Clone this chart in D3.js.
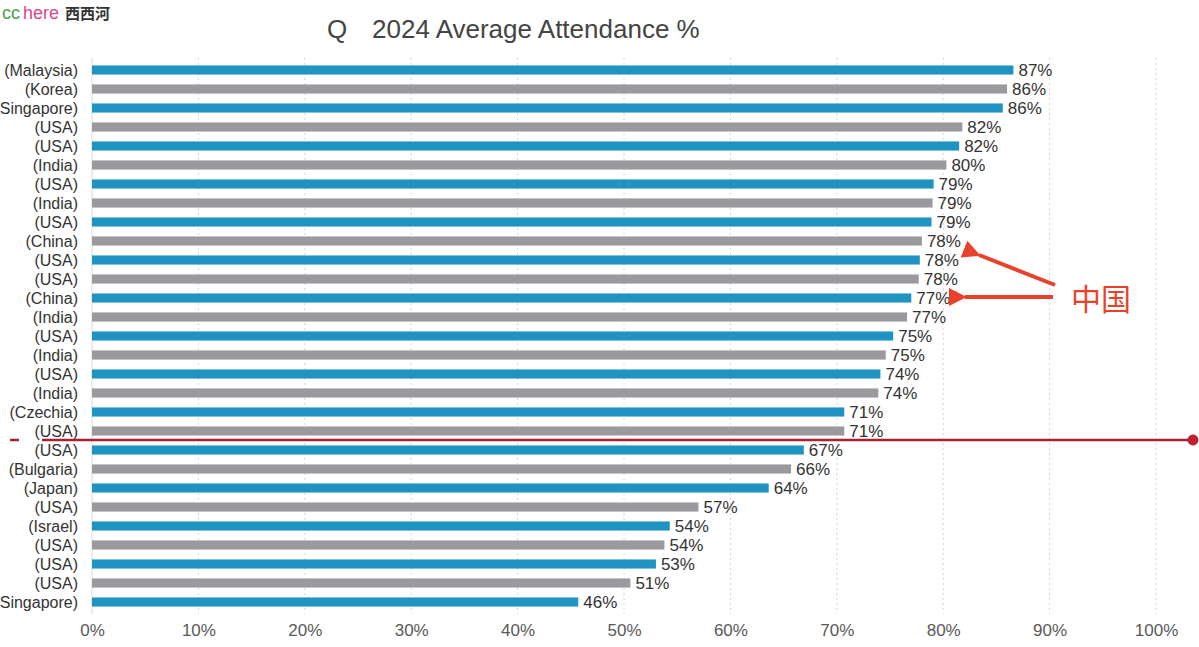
<!DOCTYPE html>
<html><head><meta charset="utf-8">
<script src="https://cdn.jsdelivr.net/npm/d3@7"></script>
<style>body{margin:0;background:#fff}svg{display:block}</style>
</head><body><svg id="c" width="1199" height="647"></svg>
<script>
const categories = ["(Malaysia)","(Korea)","Singapore)","(USA)","(USA)","(India)","(USA)","(India)","(USA)","(China)","(USA)","(USA)","(China)","(India)","(USA)","(India)","(USA)","(India)","(Czechia)","(USA)","(USA)","(Bulgaria)","(Japan)","(USA)","(Israel)","(USA)","(USA)","(USA)","Singapore)"];
const values = [86.6,86.0,85.6,81.8,81.5,80.3,79.1,79.0,78.9,78.0,77.8,77.7,77.0,76.6,75.3,74.6,74.1,73.9,70.7,70.7,66.9,65.7,63.6,57.0,54.3,53.8,53.0,50.6,45.7];
const ticks = [0,10,20,30,40,50,60,70,80,90,100];
const titleParts = ["Q", "2024 Average Attendance %"];

const svg = d3.select("#c");
const font = "'Liberation Sans', Arial, sans-serif";
const x = d3.scaleLinear().domain([0,100]).range([92,1156]);
const y = d3.scaleBand().domain(d3.range(categories.length)).range([60.5,611.5]).paddingInner(0.52).paddingOuter(0.26);

// grid
svg.append("g").selectAll("line").data(ticks.slice(1)).join("line")
  .attr("x1",d=>x(d)).attr("x2",d=>x(d)).attr("y1",58).attr("y2",614)
  .attr("stroke","#d4d4d4").attr("stroke-width",1).attr("stroke-dasharray","2,3");
svg.append("line").attr("x1",x(0)).attr("x2",x(0)).attr("y1",58).attr("y2",614)
  .attr("stroke","#d9d9d9").attr("stroke-width",1);

// axis
const ax = svg.append("g").attr("transform","translate(0,620)")
  .call(d3.axisBottom(x).tickValues(ticks).tickFormat(d=>d+"%").tickSize(0).tickPadding(4));
ax.select(".domain").remove();
ax.selectAll("text").attr("font-family",font).attr("font-size",17).attr("fill","#595959");

// bars
svg.append("g").selectAll("rect").data(values).join("rect")
  .attr("x",x(0)).attr("y",(d,i)=>y(i)).attr("height",y.bandwidth())
  .attr("width",d=>x(d)-x(0))
  .attr("fill",(d,i)=>i%2===0?"#1f93c1":"#9a999e");

// value labels
svg.append("g").selectAll("text").data(values).join("text")
  .attr("x",d=>x(d)+5).attr("y",(d,i)=>y(i)+y.bandwidth()/2).attr("dy","0.36em")
  .attr("font-family",font).attr("font-size",17).attr("fill","#333")
  .text(d=>Math.round(d)+"%");

// category labels
svg.append("g").selectAll("text").data(categories).join("text")
  .attr("x",78).attr("y",(d,i)=>y(i)+y.bandwidth()/2).attr("dy","0.36em")
  .attr("text-anchor","end").attr("font-family",font).attr("font-size",16).attr("fill","#333")
  .text(d=>d);

// title
const tt = svg.append("text").attr("y",38).attr("font-family",font).attr("font-size",26).attr("fill","#444");
tt.append("tspan").attr("x",327).text(titleParts[0]);
tt.append("tspan").attr("x",372).text(titleParts[1]);

// watermark
const wm = svg.append("text").attr("x",2).attr("y",19).attr("font-family",font).attr("font-size",18);
wm.append("tspan").attr("fill","#4aa04a").text("cc");
wm.append("tspan").attr("fill","#d9478f").attr("dx",3).text("here");
wm.append("tspan").attr("fill","#333").attr("dx",6).attr("font-family","'Noto Sans CJK SC'").attr("font-size",15).attr("font-weight","bold").text("西西河");

// red horizontal line
svg.append("line").attr("x1",42).attr("x2",1193).attr("y1",440).attr("y2",440)
  .attr("stroke","#a3232e").attr("stroke-width",2.5);
svg.append("line").attr("x1",10).attr("x2",19).attr("y1",440).attr("y2",440)
  .attr("stroke","#a3232e").attr("stroke-width",2.5);
svg.append("circle").attr("cx",1193).attr("cy",440).attr("r",5).attr("fill","#c4202f").attr("stroke","#a3232e");

// annotations
const red = "#e8432a";
const defs = svg.append("defs");
defs.append("marker").attr("id","ah").attr("viewBox","0 0 10 10").attr("refX",1).attr("refY",5)
  .attr("markerWidth",4.5).attr("markerHeight",4.5).attr("orient","auto")
  .append("path").attr("d","M10,0 L0,5 L10,10 Z").attr("fill",red);
svg.append("line").attr("x1",1055).attr("y1",285).attr("x2",979).attr("y2",255)
  .attr("stroke",red).attr("stroke-width",4).attr("marker-end","url(#ah)");
svg.append("line").attr("x1",1053).attr("y1",297).attr("x2",965).attr("y2",297)
  .attr("stroke",red).attr("stroke-width",4).attr("marker-end","url(#ah)");
svg.append("text").attr("x",1071).attr("y",310).attr("font-family","'Noto Sans CJK SC'")
  .attr("font-size",30).attr("fill",red).text("中国");
</script></body></html>
